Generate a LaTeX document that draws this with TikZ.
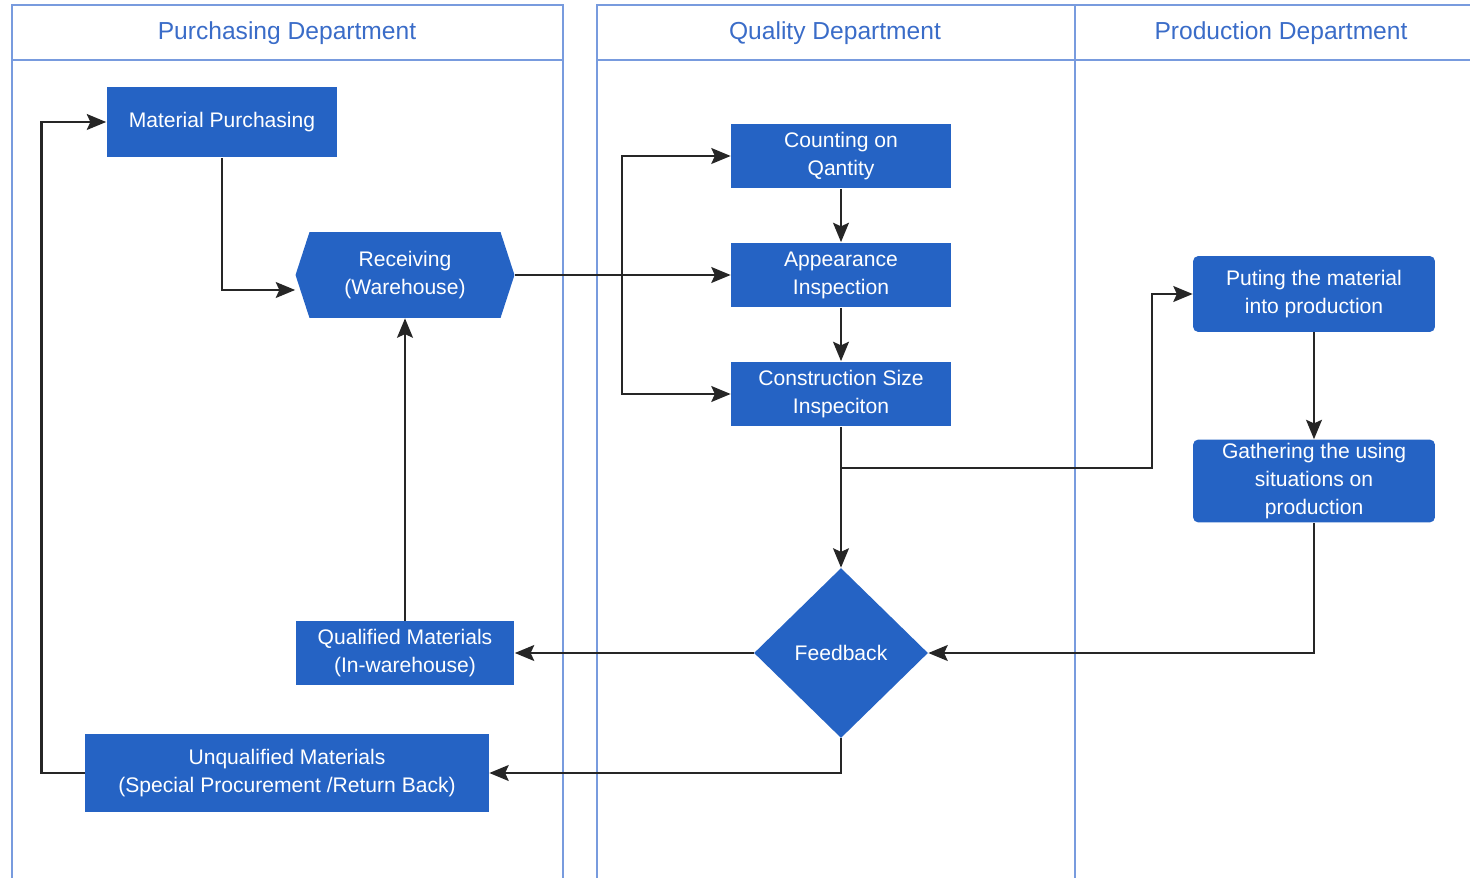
\documentclass[tikz,border=0pt]{standalone}
\usepackage{fontspec}
\setmainfont{Liberation Sans}
\usepackage{tikz}
\usetikzlibrary{arrows.meta, shapes.geometric, shapes.symbols}
\usepackage{xcolor}
\definecolor{boxblue}{RGB}{37,99,196}
\definecolor{lanecol}{RGB}{120,155,222}
\definecolor{headcol}{RGB}{58,108,200}
\tikzset{
    box/.style={fill=boxblue, text=white, align=center, inner sep=2pt,
        font=\fontsize{12}{16}\selectfont},
    roundbox/.style={box, rounded corners=3pt},
    hexbox/.style={box, signal, signal to=west and east, signal pointer angle=144},
    decision/.style={box, diamond, inner sep=0pt},
    lane/.style={draw=lanecol, line width=0.8pt},
    lanehead/.style={text=headcol, font=\fontsize{14}{16}\selectfont},
    flow/.style={draw=black!85, line width=1.4pt, -{Stealth[length=11pt, width=9pt, inset=2pt]}}
}

\begin{document}
\begin{tikzpicture}[x=0.02cm, y=-0.02cm]
        \useasboundingbox (0, 0) rectangle (1470, 878);
        % Lanes
        \draw [lane] (12, 878) -- (12, 5) -- (563, 5) -- (563, 878);
        \draw [lane] (12, 60) -- (563, 60);
        \draw [lane] (597, 878) -- (597, 5) -- (1470, 5);
        \draw [lane] (1075, 5) -- (1075, 878);
        \draw [lane] (597, 60) -- (1470, 60);
        \node [lanehead] (purchdept) at (287, 33) {Purchasing Department};
        \node [lanehead] (qualdept) at (835, 33) {Quality Department};
        \node [lanehead] (proddept) at (1281, 33) {Production Department};
        % Purchasing
        \node [box, minimum width=4.62cm, minimum height=1.42cm] (purch) at (222, 122) {Material Purchasing};
        \node [hexbox, minimum width=4.38cm, minimum height=1.72cm] (recv) at (405, 275) {Receiving\\(Warehouse)};
        \node [box, minimum width=4.38cm, minimum height=1.28cm] (qual) at (405, 653) {Qualified Materials\\(In-warehouse)};
        \node [box, minimum width=8.08cm, minimum height=1.58cm] (unqual) at (287, 773) {Unqualified Materials\\(Special Procurement /Return Back)};
        % Quality
        \node [box, minimum width=4.4cm, minimum height=1.3cm] (count) at (841, 156) {Counting on\\Qantity};
        \node [box, minimum width=4.4cm, minimum height=1.3cm] (appear) at (841, 275) {Appearance\\Inspection};
        \node [box, minimum width=4.4cm, minimum height=1.3cm] (constr) at (841, 394) {Construction Size\\Inspeciton};
        \node [decision, minimum width=3.48cm, minimum height=3.4cm] (feed) at (841, 653) {Feedback};
        % Production
        \node [roundbox, minimum width=4.84cm, minimum height=1.52cm] (put) at (1314, 294) {Puting the material\\into production};
        \node [roundbox, minimum width=4.84cm, minimum height=1.64cm] (gath) at (1314, 481) {Gathering the using\\situations on\\production};
        % Bends
        \coordinate (split) at (622, 275);
        \coordinate (tap) at (841, 468);
        \coordinate (bend) at (1152, 468);
        % Arrows
        \draw [flow] (purch.south) |- ([yshift=-0.3cm]recv.west);
        \draw [flow] (recv.east) -- (appear.west);
        \draw [flow] (split) |- (count.west);
        \draw [flow] (split) |- (constr.west);
        \draw [flow] (count.south) -- (appear.north);
        \draw [flow] (appear.south) -- (constr.north);
        \draw [flow] (constr.south) -- (feed.north);
        \draw [flow] (tap) -- (bend) |- (put.west);
        \draw [flow] (put.south) -- (gath.north);
        \draw [flow] (gath.south) |- (feed.east);
        \draw [flow] (feed.west) -- (qual.east);
        \draw [flow] (qual.north) -- (recv.south);
        \draw [flow] (feed.south) |- (unqual.east);
        \draw [flow] (unqual.west) -- ++(-43, 0) |- (purch.west);
\end{tikzpicture}
\end{document}
